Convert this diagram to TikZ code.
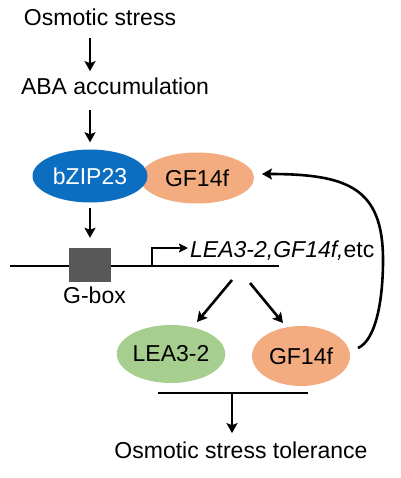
\documentclass[tikz,border=0pt]{standalone}
\usepackage{fontspec}
\setmainfont{Liberation Sans}
\usetikzlibrary{arrows.meta,shapes.geometric}
\definecolor{bzblue}{RGB}{12,110,192}
\definecolor{gforange}{RGB}{242,172,128}
\definecolor{leagreen}{RGB}{166,206,142}
\definecolor{boxgray}{RGB}{88,88,88}
\tikzset{
  txt/.style={font=\fontsize{23}{27}\selectfont, inner sep=0pt, anchor=base},
  arr/.style={line width=2.6pt, -{Stealth[length=10pt,width=11pt,inset=2pt]}},
  ln/.style={line width=2.6pt},
  prot/.style={ellipse, inner sep=0pt, font=\fontsize{23}{27}\selectfont},
}
\begin{document}
\begin{tikzpicture}[x=1pt,y=-1pt]
\useasboundingbox (0,0) rectangle (400,478);
% texts
\node[txt] (os) at (100,26) {Osmotic stress};
\node[txt] (aba) at (115,95) {ABA accumulation};
% proteins
\node[prot, fill=gforange, minimum width=114pt, minimum height=51pt] (gf1) at (197,178) {GF14f};
\node[prot, fill=bzblue, text=white, minimum width=115pt, minimum height=53pt] (bz) at (90,176) {bZIP23};
% arrows top
\draw[arr, shorten <=12pt, shorten >=7pt] (os.south -| bz.center) -- (aba.north -| bz.center);
\draw[arr, shorten <=15pt, shorten >=7pt] (aba.south -| bz.center) -- (bz.north);
% DNA
\coordinate (dl) at (10,266);
\coordinate (dr) at (279,266);
\draw[ln] (dl) -- (dr);
\node[fill=boxgray, minimum width=42pt, minimum height=34pt, inner sep=0pt] (gbox) at (90,265) {};
\draw[arr, shorten <=5pt, shorten >=10pt] (bz.south) -- (gbox.north);
\node[txt] (gboxlbl) at (94.5,303) {G-box};
% promoter
\coordinate (tss) at (152,266);
\node[txt, anchor=base west] (genes) at (190,257) {\itshape LEA3-2,GF14f,\upshape etc};
\coordinate (tssend) at (188,248);
\draw[line width=2.4pt, -{Stealth[length=9pt,width=9pt,inset=1.5pt]}] (tss) |- (tssend);
% products
\node[prot, fill=leagreen, minimum width=98pt, minimum height=58pt] (lea) at (171,354) {LEA3-2};
\node[prot, fill=gforange, minimum width=98pt, minimum height=60pt] (gf2) at (301,356) {GF14f};
\coordinate (d1s) at (232,280);
\coordinate (d1e) at (197,322);
\coordinate (d2s) at (250,283);
\coordinate (d2e) at (283,323);
\draw[arr] (d1s) -- (d1e);
\draw[arr] (d2s) -- (d2e);
% bar and tolerance
\coordinate (bl) at (158,393);
\coordinate (br) at (308,393);
\coordinate (bm) at (232,393);
\draw[ln] (bl) -- (br);
\node[txt] (tol) at (241,458) {Osmotic stress tolerance};
\draw[arr, shorten >=8pt] (bm) -- (bm |- tol.north);
% feedback
\coordinate (fbs) at (358,348);
\coordinate (fbm) at (383,260);
\coordinate (fbe) at (262,174);
\draw[arr] (fbs) .. controls (376,340) and (383,300) .. (fbm)
  .. controls (383,188) and (348,174) .. (fbe);
\end{tikzpicture}
\end{document}
